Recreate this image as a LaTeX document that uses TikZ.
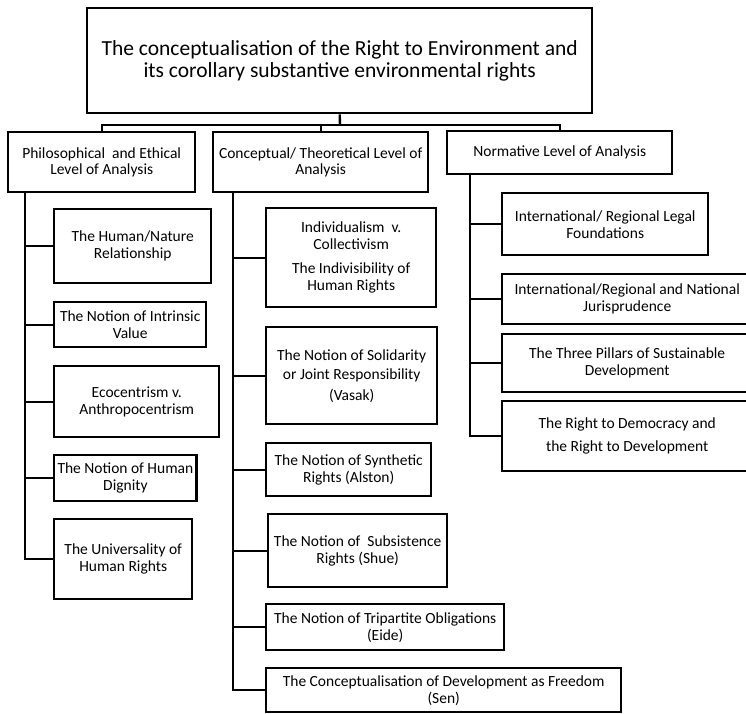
\documentclass[tikz,border=0pt]{standalone}
\usepackage{fontspec}
\setmainfont{Carlito}
\usepackage{xcolor}
\usepackage{tikz}
\usetikzlibrary{positioning}
\tikzset{
    titlebox/.style={rectangle, draw, line width=2.4pt, anchor=north west, align=center, font=\fontsize{21.5}{22.5}\selectfont},
    levelbox/.style={rectangle, draw, line width=2.4pt, anchor=north west, align=center, font=\fontsize{15.5}{16.5}\selectfont},
    itembox/.style={rectangle, draw, line width=2.4pt, anchor=north west, align=center, font=\fontsize{15.5}{17}\selectfont},
    link/.style={line width=2.4pt}
}

\begin{document}
\begin{tikzpicture}[x=1pt, y=-1pt]
            \useasboundingbox (0,0) rectangle (746,713);
            \node (title) [titlebox, minimum width=505pt, minimum height=105pt] at (86,7) {The conceptualisation of the Right to Environment and\\its corollary substantive environmental rights};

            \node (phil) [levelbox, minimum width=187pt, minimum height=60pt] at (7,131) {Philosophical\ \ and Ethical\\Level of Analysis};
            \node (concept) [levelbox, minimum width=215pt, minimum height=60pt] at (212,131) {Conceptual/ Theoretical Level of\\Analysis};
            \node (norm) [levelbox, minimum width=225pt, minimum height=43pt] at (446,130) {Normative Level of Analysis};

            \coordinate (bus) at (340,125);
            \draw[link] (title.south) -- (bus);
            \draw[link] (phil.north) |- (bus) -| (norm.north);
            \draw[link] (concept.north) -- (concept.north |- bus);

            % philosophical and ethical level
            \node (human) [itembox, minimum width=157pt, minimum height=74pt] at (53,208) {The Human/Nature\\Relationship};
            \node (intrinsic) [itembox, minimum width=152pt, minimum height=45pt] at (53,301) {The Notion of Intrinsic\\Value};
            \node (ecocentr) [itembox, minimum width=165pt, minimum height=71pt] at (53,365) {Ecocentrism v.\\Anthropocentrism};
            \node (dignity) [itembox, minimum width=142pt, minimum height=46pt] at (53,454) {The Notion of Human\\Dignity};
            \node (univ) [itembox, minimum width=138pt, minimum height=80pt] at (53,518) {The Universality of\\Human Rights};

            \draw[link] ([xshift=18pt]phil.south west) |- (human.west);
            \draw[link] ([xshift=18pt]phil.south west) |- (intrinsic.west);
            \draw[link] ([xshift=18pt]phil.south west) |- (ecocentr.west);
            \draw[link] ([xshift=18pt]phil.south west) |- (dignity.west);
            \draw[link] ([xshift=18pt]phil.south west) |- (univ.west);

            % conceptual / theoretical level
            \node (indiv) [itembox, minimum width=170pt, minimum height=99pt] at (265,207) {Individualism\ \ v.\\Collectivism\\[7pt]The Indivisibility of\\Human Rights};
            \node (solidar) [itembox, minimum width=171pt, minimum height=97pt] at (265,326) {The Notion of Solidarity\\[2pt]or Joint Responsibility\\[4pt](Vasak)};
            \node (synth) [itembox, minimum width=165pt, minimum height=53pt] at (265,442) {The Notion of Synthetic\\Rights (Alston)};
            \node (subsist) [itembox, minimum width=179pt, minimum height=73pt] at (267,513) {The Notion of\ \ Subsistence\\Rights (Shue)};
            \node (tripart) [itembox, minimum width=238pt, minimum height=46pt] at (265,603) {The Notion of Tripartite Obligations\\(Eide)};
            \node (freedom) [itembox, minimum width=355pt, minimum height=44pt] at (265,667) {The Conceptualisation of Development as Freedom\\(Sen)};

            \draw[link] ([xshift=21pt]concept.south west) |- (indiv.west);
            \draw[link] ([xshift=21pt]concept.south west) |- (solidar.west);
            \draw[link] ([xshift=21pt]concept.south west) |- (synth.west);
            \draw[link] ([xshift=21pt]concept.south west) |- (subsist.west);
            \draw[link] ([xshift=21pt]concept.south west) |- (tripart.west);
            \draw[link] ([xshift=21pt]concept.south west) |- (freedom.west);

            % normative level
            \node (legal) [itembox, minimum width=206pt, minimum height=62pt] at (501,192) {International/ Regional Legal\\Foundations};
            \node (juris) [itembox, minimum width=250pt, minimum height=50pt] at (501,273) {International/Regional and National\\Jurisprudence};
            \node (pillars) [itembox, minimum width=250pt, minimum height=58pt] at (501,333) {The Three Pillars of Sustainable\\Development};
            \node (democ) [itembox, minimum width=250pt, minimum height=70pt] at (501,400) {The Right to Democracy and\\[6pt]the Right to Development};

            \draw[link] ([xshift=24pt]norm.south west) |- (legal.west);
            \draw[link] ([xshift=24pt]norm.south west) |- (juris.west);
            \draw[link] ([xshift=24pt]norm.south west) |- (pillars.west);
            \draw[link] ([xshift=24pt]norm.south west) |- (democ.west);
        \end{tikzpicture}
\end{document}
